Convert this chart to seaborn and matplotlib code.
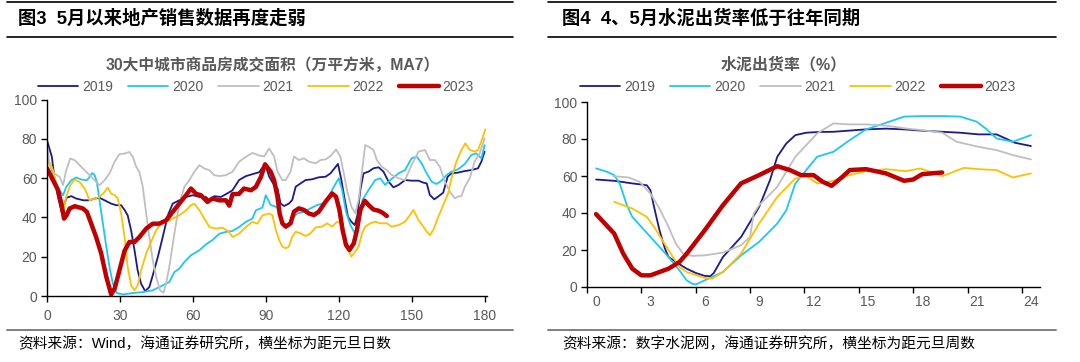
import numpy as np
import pandas as pd
import matplotlib
matplotlib.use("Agg")
import matplotlib.pyplot as plt
from matplotlib.lines import Line2D
import seaborn as sns

# ---------------- data: left chart (days since Jan 1, MA7 area) ----------------
years = ["2019", "2020", "2021", "2022", "2023"]

d2019 = [0, 2, 3, 4.5, 6, 7, 8, 10, 12, 15, 17.5, 19.6, 21.6, 23.7, 26.4, 28.5, 30.5, 32, 33.2, 34.6, 36, 37.3, 38.7, 40.4, 42.1, 43.5, 45.6, 47.6, 49.7, 51.7, 54.4, 57.2, 60, 62.7, 65.4, 66.8, 68.8, 71.5, 73.6, 76.3, 79, 81.8, 84.5, 87.3, 89.7, 91.4, 93.4, 94.8, 96.1, 97.5, 99.5, 100.9, 102.3, 104.3, 106.4, 109.1, 111.8, 114.6, 116.6, 118.6, 119.7, 121.1, 122.5, 123.8, 125.2, 126.6, 127.7, 128.9, 130.2, 132.3, 134.3, 136.4, 138.4, 140.5, 142.5, 144.6, 147.3, 150, 152.8, 154.8, 156.2, 157.5, 159.3, 160.9, 163, 164.8, 166.4, 169.1, 171.9, 174.6, 177.3, 178.7, 180]
v2019 = [79.3, 70.8, 60.6, 50.4, 42.8, 46, 50, 50.8, 49.6, 48.7, 48.7, 49.6, 50, 48.7, 47, 46.2, 46.2, 43.6, 41, 33.4, 23.3, 13, 6.3, 2.4, 4.6, 10.5, 19.9, 30, 41, 47, 48.7, 50.4, 51.3, 50.4, 50.4, 48.4, 50.8, 50.4, 51.8, 53.8, 59, 61, 62, 63, 67.3, 60.7, 56.5, 54.8, 47, 45.8, 47, 48.9, 55.6, 57.3, 59, 59.4, 60.4, 60.7, 62.4, 65.5, 67.2, 59, 48.9, 40.4, 37.8, 36.1, 41.2, 54, 62.4, 63.3, 65, 65.5, 63.3, 58.2, 55.3, 56.5, 59, 58.7, 58.7, 57.7, 57.3, 51.4, 49.2, 50.6, 52.6, 60.7, 62.4, 62.8, 63.6, 64.1, 65, 68.4, 73.5]

d2020 = [0, 2, 3.8, 5.2, 6.6, 7.9, 10, 12, 14.1, 16.4, 17.5, 18.6, 19.6, 20.5, 21.6, 23, 24.4, 25.7, 27.1, 28.7, 31.2, 35.3, 39.4, 43.5, 47.6, 50.3, 52.4, 54.4, 56.5, 59.2, 62.7, 65.4, 68, 70.9, 73.6, 76.3, 79, 81.8, 84.5, 85.9, 88.6, 90, 92, 94.1, 95.5, 96.8, 98.2, 99.5, 100.9, 103, 105.7, 108.4, 111.1, 113.9, 115.9, 118, 120, 121.4, 123, 124.8, 126.6, 128.2, 129.8, 132.3, 135, 137.1, 139.1, 141.2, 144.6, 147.3, 150, 152.1, 154.1, 156.2, 158.2, 160.3, 162.3, 164.4, 166.4, 169.1, 171.9, 174.6, 176.6, 178.7, 180]
v2020 = [71.6, 64, 57.2, 53.8, 51.3, 55.5, 58.9, 60.3, 59.3, 58.9, 60.6, 62.6, 61.5, 58, 48.7, 36.8, 25, 14.8, 6.3, 1.5, 0.8, 1.5, 2, 2.9, 5.4, 7.1, 12.2, 13.9, 17.3, 20.7, 23.3, 26.3, 28.4, 31.7, 32.6, 33.1, 35.1, 37.7, 39.4, 43.6, 45, 51.3, 46.3, 45.5, 43.8, 37, 35, 35.6, 39.5, 42, 42.9, 44.6, 46.3, 47.2, 50.6, 55.6, 59.9, 54, 42.9, 36.1, 31.9, 38.7, 48.9, 54, 59, 59.9, 56.5, 59, 62.4, 64.1, 70.1, 70.9, 67.5, 62.4, 58.2, 57, 58.7, 61.6, 63.3, 64.5, 67.2, 71.8, 72.6, 70, 76.8]

d2021 = [0, 1.1, 3.1, 5.2, 6.6, 7.9, 9.6, 11.4, 13.4, 15.5, 17.5, 19.6, 21.6, 23.7, 25.7, 27.8, 29.8, 31.9, 33.9, 35.3, 36.7, 38, 39.4, 40.8, 42.1, 43.5, 44.9, 46.5, 47.9, 49, 50.3, 52.4, 54.4, 56.5, 58.5, 60.6, 62.7, 64.7, 66.8, 68.8, 70.9, 73.6, 76.3, 79, 81.8, 84.5, 87.3, 89.3, 91.4, 93.4, 94.8, 96.8, 98.2, 100.2, 101.6, 103.6, 105.7, 107.7, 110.5, 112.5, 114.6, 116.6, 118.9, 120.7, 122.1, 123.4, 125.2, 126.8, 128.2, 129.8, 130.9, 132.3, 134.3, 135.7, 137.7, 139.8, 141.8, 144.6, 147.3, 150, 152.8, 155.5, 157.5, 159.6, 161.6, 163.7, 165.7, 167.8, 169.1, 170.5, 171.9, 173.9, 175.9, 178, 180]
v2021 = [76.7, 66.6, 62.3, 60.6, 56.4, 64, 70, 69.1, 66.6, 64, 61.5, 58.9, 56.4, 58.9, 62.3, 68.3, 72.2, 72.5, 73.3, 70.8, 65.7, 63.2, 55.5, 41.9, 30, 18.2, 9.7, 2.9, 1.7, 6.3, 14.8, 31.7, 47, 55.5, 58.9, 63.2, 66.6, 64.9, 64, 61.5, 61, 61.5, 63.2, 68.3, 70.8, 72.8, 71.5, 71, 75.1, 71, 63.3, 59, 59, 63.3, 71, 69.2, 70.1, 68.4, 67.5, 69.2, 69.5, 71.2, 74.6, 70.9, 62.4, 53.9, 45.5, 42, 48.9, 65.8, 76.8, 76, 74.3, 69.2, 65.8, 64.1, 61.6, 59.9, 59, 66.7, 73.5, 74.3, 69.2, 69.2, 65.8, 58.2, 53.1, 49.7, 50.6, 50.9, 55.6, 59.9, 68.4, 72.6, 80.2]

d2022 = [0, 2, 3.1, 4.5, 5.9, 6.8, 7.9, 9.6, 11.4, 13.4, 15.5, 17.5, 19.6, 21.6, 23.7, 25, 26.4, 27.8, 29.1, 30.5, 31.9, 33.2, 34.6, 36, 37.3, 38.7, 40.8, 42.8, 44.9, 46.9, 49, 51.7, 54.4, 57.2, 59.2, 60.6, 62.7, 64.7, 66.8, 69.5, 72.2, 74.9, 76.3, 79, 81.8, 84.5, 86.6, 88.6, 91.4, 92.7, 94.1, 95.5, 96.8, 98.2, 99.5, 100.9, 102.3, 104.3, 106.4, 108.4, 110.5, 113.2, 115.2, 117.3, 119.3, 120.7, 122.1, 123.4, 125.2, 126.8, 128.2, 129.6, 130.9, 133, 135, 137.1, 139.8, 141.8, 144.6, 147.3, 149.3, 150.7, 152.8, 154.8, 156.2, 157.5, 158.9, 161, 163, 165, 166.4, 168.4, 170.5, 172.1, 173.9, 175.9, 177.3, 178.9, 180.3]
v2022 = [69, 65.7, 60.6, 53.8, 47, 43.6, 50.4, 56.4, 59.3, 58, 54.7, 48.7, 49.6, 50.4, 53, 55.2, 52, 51.3, 49.6, 42, 30, 14.8, 5.4, 2.9, 5.4, 13, 21.6, 27.5, 33.4, 36.8, 37.7, 39.4, 41, 43.6, 46.2, 47, 43.6, 39.4, 35.1, 34.3, 34.8, 32.6, 30, 31.7, 35.1, 37.7, 36.8, 41, 42, 41.2, 33.6, 28.5, 25.1, 24.3, 25.1, 30.2, 32.7, 31.9, 30.5, 31.9, 34.9, 35.3, 37, 35.3, 37.8, 37, 30.2, 25.1, 20, 22.6, 25.1, 31.9, 35.3, 37, 37.8, 37, 37, 35.3, 36.1, 37.8, 41.2, 43.8, 38.7, 35.3, 32.7, 31, 33.6, 40.4, 46.3, 52.2, 59.9, 68.4, 74.3, 77.7, 74.3, 73.5, 74.3, 79.4, 84.8]

d2023 = [0, 1.8, 4.5, 5.9, 7, 8, 9.3, 11.4, 14.8, 16.4, 18.2, 20.2, 22.3, 24.4, 26.4, 27.8, 29.8, 31.9, 33.9, 36, 38, 40.8, 43.5, 46.2, 49, 51.7, 54.4, 57.2, 59.2, 61.3, 63.3, 66, 68, 70.9, 73.6, 75, 76.3, 79, 81, 83.9, 85.9, 88, 89.7, 92, 93.4, 94.8, 95.7, 96.8, 98.2, 100.2, 101.6, 103.6, 105.7, 107.7, 109.8, 111.8, 114.6, 117.3, 118.9, 120.3, 121.6, 123, 124.4, 126.2, 127.5, 128.9, 130.7, 132.3, 134.3, 136.4, 138, 139.8]
v2023 = [65, 60.6, 54, 47, 39.4, 41, 44.5, 45.7, 44.5, 42.8, 36.8, 30, 21.6, 9.7, 0.8, 3.7, 13, 23, 27.5, 27.5, 30, 34.3, 36.8, 36.8, 38.5, 42.8, 47, 51.3, 54.7, 52, 51.3, 47.9, 49.6, 48.7, 48.7, 46, 51.8, 52, 54.7, 53.8, 55.5, 60.6, 67, 63.3, 59, 50.5, 42, 37, 35.3, 37, 42.9, 44.6, 43.8, 42, 41.2, 42.9, 48, 52.2, 50.5, 43.8, 33.6, 26, 23.4, 26.8, 33.6, 43.8, 48.5, 46.3, 44, 43.4, 42.4, 40.7]

left_days = [d2019, d2020, d2021, d2022, d2023]
left_vals = [v2019, v2020, v2021, v2022, v2023]
left_xticks = [0, 30, 60, 90, 120, 150, 180]

# ---------------- data: right chart (weeks since Jan 1, cement shipment rate %) ----------------
w2019 = [0, 1, 2, 2.5, 2.8, 3, 3.2, 3.5, 3.8, 4, 4.6, 5, 5.5, 6, 6.3, 6.5, 7, 8, 9, 9.6, 10, 10.5, 11, 11.6, 12.3, 13.1, 14.9, 16, 17, 18, 19.1, 20.1, 21.1, 22.1, 22.6, 23.1, 24]
r2019 = [58.1, 57.4, 56, 55.4, 55, 52.3, 43.3, 30.7, 20.8, 16.2, 12.3, 9.9, 7.6, 6, 5.8, 7.6, 16.2, 27, 43.3, 57.8, 70.4, 77.6, 82.1, 83.4, 83.8, 83.9, 85.2, 85.6, 85.2, 84.5, 83.9, 83.4, 82.5, 82.5, 80.3, 78, 76.2]

w2020 = [0, 0.6, 1, 1.3, 1.7, 2, 3, 4, 4.6, 5, 5.3, 5.5, 6, 7, 8, 9, 10, 10.5, 11, 11.6, 12.2, 13.1, 14, 14.9, 15.9, 17, 18.1, 19.2, 20.1, 21, 21.5, 22.1, 23, 24]
r2020 = [64.1, 62.3, 60.5, 56, 44.2, 37.9, 27.1, 16.2, 9, 3.6, 1.8, 1.4, 3.6, 8.1, 17.1, 24.4, 34.3, 41.5, 56, 63.2, 70.4, 73.1, 79.4, 85.2, 88.4, 92.1, 92.4, 92.4, 92.1, 89.4, 85.7, 80.3, 78.5, 82.1]

w2021 = [0.95, 1.8, 2.4, 3, 3.5, 4, 4.4, 4.8, 5.3, 6, 7, 8, 8.5, 8.7, 9, 10, 11, 12.2, 13.1, 14, 14.9, 16, 17.1, 18, 19.1, 19.9, 21.1, 22.1, 23, 24]
r2021 = [59.9, 59.2, 56.9, 50.5, 42.4, 32.5, 23.5, 18, 16.8, 17.1, 18.6, 22.6, 27, 39.7, 44.2, 54.2, 70.4, 83, 88.4, 87.9, 87.9, 87.2, 85.7, 84.8, 83.4, 78.5, 75.8, 74, 71.3, 69]

w2022 = [1, 2, 2.8, 3.2, 4, 4.6, 5, 6, 6.4, 7, 8, 9, 10, 11, 11.6, 12.2, 13.1, 14, 14.9, 16, 17.1, 17.9, 19.1, 20.3, 21.1, 22.1, 23, 24]
r2022 = [46, 42.4, 37.9, 32.5, 19.9, 10.8, 8.1, 4.9, 4.5, 8.1, 18, 34.3, 48.7, 58.7, 59.9, 56, 57.4, 60.5, 62.6, 63.7, 62.6, 64.1, 59.9, 64.4, 63.7, 63.2, 59.2, 61.4]

w2023 = [0, 1, 1.5, 2, 2.5, 3, 4, 4.6, 5, 6, 7, 8, 9, 10, 10.7, 11.3, 12, 12.5, 13, 13.6, 14, 14.9, 16, 17, 17.5, 18, 19.1]
r2023 = [39.4, 28.9, 18, 9.9, 6.3, 6.3, 9.9, 13.5, 18, 30.7, 44.2, 56, 60.5, 65.3, 63.2, 60.5, 60.5, 56.9, 54.7, 59.6, 63.2, 63.7, 61.4, 57.4, 58.1, 61, 61.9]

right_weeks = [w2019, w2020, w2021, w2022, w2023]
right_vals = [r2019, r2020, r2021, r2022, r2023]
right_xticks = [0, 3, 6, 9, 12, 15, 18, 21, 24]

y_ticks = [0, 20, 40, 60, 80, 100]

# ---------------- text ----------------
left_header = "图3  5月以来地产销售数据再度走弱"
right_header = "图4  4、5月水泥出货率低于往年同期"
left_title = "30大中城市商品房成交面积（万平方米，MA7）"
right_title = "水泥出货率（%）"
left_source = "资料来源：Wind，海通证券研究所，横坐标为距元旦日数"
right_source = "资料来源：数字水泥网，海通证券研究所，横坐标为距元旦周数"

# ---------------- style ----------------
colors = ["#1A1A8C", "#1CC7F7", "#BFBFBF", "#FFC000", "#C00000"]
widths = [1.3, 1.3, 1.3, 1.3, 3.2]

sns.set_theme(style="white")
plt.rcParams["font.family"] = ["Liberation Sans", "Noto Sans CJK SC", "DejaVu Sans"]
GRAY = "#595959"

fig = plt.figure(figsize=(10.8, 3.62), dpi=100)
axL = fig.add_axes([47 / 1080, 1 - 296 / 362, 440 / 1080, 196.5 / 362])
axR = fig.add_axes([587 / 1080, 1 - 287 / 362, 453 / 1080, 185 / 362])


def draw(ax, xs, ys):
    for yr, x, y, c, lw in zip(years, xs, ys, colors, widths):
        df = pd.DataFrame({"x": x, "y": y})
        sns.lineplot(data=df, x="x", y="y", color=c, lw=lw, label=yr, ax=ax,
                     estimator=None, sort=False, legend=False)
    ax.set_xlabel("")
    ax.set_ylabel("")
    ax.set_ylim(0, 100)
    ax.set_yticks(y_ticks)
    for s in ["top", "right"]:
        ax.spines[s].set_visible(False)
    for s in ["left", "bottom"]:
        ax.spines[s].set_color("#000000")
        ax.spines[s].set_linewidth(1.0)
    ax.tick_params(axis="y", which="major", direction="out", length=4, width=1,
                   color="black", labelsize=10, labelcolor=GRAY, pad=3, left=True)
    ax.grid(False)


draw(axL, left_days, left_vals)
axL.set_xlim(0, 181)
axL.set_xticks(left_xticks)
axL.tick_params(axis="x", direction="out", length=4, width=1, color="black",
                labelsize=10, labelcolor=GRAY, pad=5, bottom=True)

draw(axR, right_weeks, right_vals)
axR.set_xlim(-0.5, 24.5)
axR.set_xticks(right_xticks)
axR.set_xticks(np.arange(-0.5, 24.6, 3), minor=True)
axR.tick_params(axis="x", which="major", length=0, labelsize=10, labelcolor=GRAY, pad=6, bottom=True)
axR.tick_params(axis="x", which="minor", direction="out", length=4, width=1, color="black", bottom=True)

# legends
handles = [Line2D([0], [0], color=c, lw=lw) for c, lw in zip(colors, widths)]
for ax, xc in [(axL, 256 / 1080), (axR, 798 / 1080)]:
    leg = ax.legend(handles, years, loc="center", bbox_to_anchor=(xc, 1 - 87 / 362),
                    bbox_transform=fig.transFigure, ncol=5, frameon=False,
                    handlelength=2.9, handletextpad=0.25, columnspacing=1.1,
                    fontsize=10)
    for t in leg.get_texts():
        t.set_color(GRAY)

# headers and titles
fig.text(18 / 1080, 1 - 19 / 362, left_header, fontsize=13.2, fontweight="bold",
         va="center", ha="left", color="black")
fig.text(562 / 1080, 1 - 19 / 362, right_header, fontsize=13.2, fontweight="bold",
         va="center", ha="left", color="black")
fig.text(273 / 1080, 1 - 65 / 362, left_title, fontsize=11.3, fontweight="bold",
         va="center", ha="center", color=GRAY)
fig.text(784 / 1080, 1 - 65 / 362, right_title, fontsize=11.5, fontweight="bold",
         va="center", ha="center", color=GRAY)
fig.text(18 / 1080, 1 - 344 / 362, left_source, fontsize=10.6, va="center", ha="left", color="black")
fig.text(562 / 1080, 1 - 344 / 362, right_source, fontsize=10.6, va="center", ha="left", color="black")

# rules
for (x0, x1) in [(7, 513), (548, 1056)]:
    for yy, col, lw in [(1.5, "black", 1.2), (37, "black", 1.2), (330, "#7F7F7F", 1.4)]:
        fig.add_artist(Line2D([x0 / 1080, x1 / 1080], [1 - yy / 362, 1 - yy / 362],
                              transform=fig.transFigure, color=col, lw=lw))

fig.savefig("out.png", dpi=100)
